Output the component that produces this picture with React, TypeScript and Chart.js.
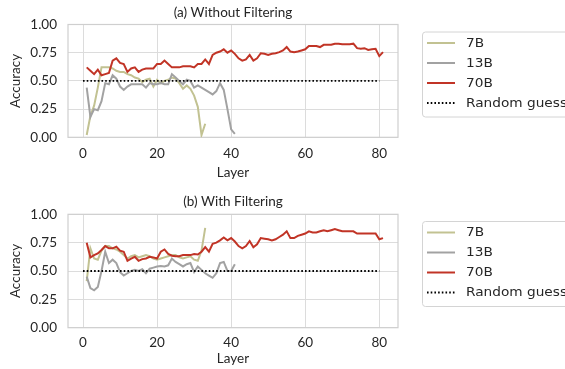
import React, { useEffect, useRef } from 'react';
import { Chart, registerables } from 'chart.js';

Chart.register(...registerables);

const seriesNames = ['7B', '13B', '70B'];
const seriesColors = ['rgb(194,194,146)', 'rgb(162,162,162)', 'rgb(193,52,38)'];
const randomGuessLabel = 'Random guess';
const randomGuessValue = 0.5;
const randomGuessLayers = [0, 80];
const xTickValues = [0, 20, 40, 60, 80];
const xLabel = 'Layer';
const yLabel = 'Accuracy';
const titleA = '(a) Without Filtering';
const titleB = '(b) With Filtering';

// (a) Without Filtering
const noFilter7B = [0.02, 0.19, 0.28, 0.44, 0.62, 0.62, 0.62, 0.61, 0.59, 0.58, 0.58, 0.56, 0.55, 0.53, 0.52, 0.49, 0.51, 0.52, 0.45, 0.51, 0.48, 0.50, 0.51, 0.53, 0.52, 0.48, 0.43, 0.46, 0.43, 0.37, 0.27, 0.02, 0.12];
const noFilter13B = [0.44, 0.18, 0.25, 0.24, 0.32, 0.48, 0.47, 0.55, 0.52, 0.45, 0.42, 0.45, 0.47, 0.47, 0.47, 0.47, 0.44, 0.48, 0.47, 0.47, 0.48, 0.47, 0.47, 0.56, 0.53, 0.50, 0.47, 0.51, 0.50, 0.44, 0.46, 0.44, 0.42, 0.40, 0.38, 0.41, 0.48, 0.42, 0.25, 0.07, 0.03];
const noFilter70B = [
  0.62, 0.59, 0.56, 0.60, 0.55, 0.56, 0.57, 0.68, 0.70, 0.66,
  0.65, 0.58, 0.61, 0.62, 0.58, 0.60, 0.61, 0.61, 0.61, 0.65,
  0.65, 0.68, 0.65, 0.62, 0.62, 0.62, 0.63, 0.63, 0.63, 0.62,
  0.65, 0.65, 0.69, 0.65, 0.73, 0.75, 0.76, 0.78, 0.75, 0.77,
  0.74, 0.70, 0.68, 0.69, 0.73, 0.68, 0.70, 0.745, 0.74, 0.73,
  0.74, 0.745, 0.755, 0.77, 0.80, 0.76, 0.755, 0.76, 0.77, 0.78,
  0.81, 0.81, 0.81, 0.80, 0.82, 0.82, 0.82, 0.83, 0.83, 0.825,
  0.825, 0.825, 0.83, 0.79, 0.785, 0.79, 0.775, 0.78, 0.785, 0.72, 0.755,
];

// (b) With Filtering
const filter7B = [0.41, 0.70, 0.61, 0.60, 0.68, 0.72, 0.72, 0.70, 0.69, 0.67, 0.64, 0.61, 0.63, 0.64, 0.62, 0.63, 0.64, 0.63, 0.61, 0.60, 0.61, 0.62, 0.63, 0.64, 0.64, 0.62, 0.61, 0.62, 0.63, 0.60, 0.59, 0.68, 0.88];
const filter13B = [0.45, 0.35, 0.33, 0.36, 0.50, 0.67, 0.57, 0.60, 0.57, 0.49, 0.46, 0.48, 0.50, 0.51, 0.50, 0.515, 0.48, 0.52, 0.53, 0.54, 0.545, 0.54, 0.55, 0.61, 0.58, 0.56, 0.54, 0.56, 0.57, 0.49, 0.54, 0.51, 0.48, 0.46, 0.44, 0.48, 0.57, 0.58, 0.50, 0.50, 0.56];
const filter70B = [
  0.75, 0.62, 0.64, 0.655, 0.685, 0.72, 0.70, 0.70, 0.715, 0.68,
  0.67, 0.59, 0.61, 0.625, 0.59, 0.605, 0.61, 0.625, 0.62, 0.61,
  0.67, 0.69, 0.65, 0.635, 0.63, 0.63, 0.64, 0.64, 0.64, 0.65,
  0.645, 0.67, 0.71, 0.67, 0.74, 0.75, 0.77, 0.795, 0.77, 0.79,
  0.76, 0.72, 0.70, 0.72, 0.765, 0.71, 0.735, 0.79, 0.785, 0.78,
  0.77, 0.78, 0.80, 0.82, 0.85, 0.79, 0.79, 0.81, 0.82, 0.83,
  0.85, 0.84, 0.84, 0.85, 0.86, 0.85, 0.86, 0.87, 0.86, 0.85,
  0.85, 0.85, 0.85, 0.83, 0.83, 0.83, 0.83, 0.83, 0.83, 0.78, 0.79,
];

const TEXT = '#262626';
const GRID = '#dcdcdc';
const FONT_SIZE = 13.5;

type Geom = {
  height: number;
  padTop: number;
  xAxisHeight: number;
  tickPad: number;
  xTitlePad: number;
  titleY: number;
  legendTop: number;
};

function toPoints(vals: number[]) {
  return vals.map((v, i) => ({ x: i + 1, y: v }));
}

function makeConfig(title: string, s7: number[], s13: number[], s70: number[], g: Geom): any {
  const all = [s7, s13, s70];
  const datasets: any[] = all.map((vals, i) => ({
    label: seriesNames[i],
    data: toPoints(vals),
    borderColor: seriesColors[i],
    backgroundColor: seriesColors[i],
    borderWidth: 2,
    pointRadius: 0,
    tension: 0,
    fill: false,
    order: 4 - i,
  }));
  datasets.push({
    label: randomGuessLabel,
    data: randomGuessLayers.map((x) => ({ x, y: randomGuessValue })),
    borderColor: '#000',
    borderWidth: 1.8,
    borderDash: [1.6, 2.1],
    pointRadius: 0,
    fill: false,
    order: 0,
  });

  const decor = {
    id: 'decor',
    beforeDatasetsDraw(chart: any) {
      const { ctx, chartArea: a } = chart;
      ctx.save();
      ctx.strokeStyle = '#cfcfcf';
      ctx.lineWidth = 1.2;
      ctx.strokeRect(a.left, a.top, a.right - a.left, a.bottom - a.top);
      ctx.restore();
    },
    afterDraw(chart: any) {
      const { ctx, chartArea: a } = chart;
      ctx.save();
      ctx.fillStyle = TEXT;
      ctx.font = `${FONT_SIZE}px Lato`;
      ctx.textAlign = 'center';
      ctx.textBaseline = 'middle';
      ctx.fillText(title, (a.left + a.right) / 2, g.titleY);

      // legend
      const bx = 422.5;
      const by = g.legendTop + 0.5;
      const bw = 220;
      const bh = 85;
      const r = 3;
      ctx.beginPath();
      ctx.moveTo(bx + r, by);
      ctx.lineTo(bx + bw - r, by);
      ctx.arcTo(bx + bw, by, bx + bw, by + r, r);
      ctx.lineTo(bx + bw, by + bh - r);
      ctx.arcTo(bx + bw, by + bh, bx + bw - r, by + bh, r);
      ctx.lineTo(bx + r, by + bh);
      ctx.arcTo(bx, by + bh, bx, by + bh - r, r);
      ctx.lineTo(bx, by + r);
      ctx.arcTo(bx, by, bx + r, by, r);
      ctx.closePath();
      ctx.fillStyle = 'rgba(255,255,255,0.85)';
      ctx.fill();
      ctx.strokeStyle = '#d4d4d4';
      ctx.lineWidth = 1;
      ctx.stroke();

      const labels = [...seriesNames, randomGuessLabel];
      const colors = [...seriesColors, '#000'];
      ctx.font = '12px "DejaVu Sans"';
      ctx.textAlign = 'left';
      labels.forEach((lab, i) => {
        const cy = g.legendTop + 11.5 + i * 20;
        ctx.beginPath();
        ctx.strokeStyle = colors[i];
        ctx.lineWidth = i === 3 ? 1.8 : 2;
        ctx.setLineDash(i === 3 ? [1.6, 2.1] : []);
        ctx.moveTo(427, cy);
        ctx.lineTo(455, cy);
        ctx.stroke();
        ctx.setLineDash([]);
        ctx.fillStyle = TEXT;
        ctx.save();
        ctx.translate(466, cy + 0.5);
        ctx.scale(1.14, 1);
        ctx.fillText(lab, 0, 0);
        ctx.restore();
      });
      ctx.restore();
    },
  };

  const font = { family: 'Lato', size: FONT_SIZE };

  return {
    type: 'line',
    data: { datasets },
    plugins: [decor],
    options: {
      animation: false,
      responsive: false,
      devicePixelRatio: 1,
      layout: { padding: { top: g.padTop, right: 167, bottom: 0, left: 0 } },
      plugins: { legend: { display: false }, title: { display: false }, tooltip: { enabled: false } },
      scales: {
        x: {
          type: 'linear',
          min: -4.05,
          max: 85.05,
          afterBuildTicks: (s: any) => {
            s.ticks = xTickValues.map((v) => ({ value: v }));
          },
          afterFit: (s: any) => {
            s.height = g.xAxisHeight;
          },
          grid: { color: GRID, lineWidth: 1, drawTicks: false },
          border: { display: false },
          ticks: { color: TEXT, font, padding: g.tickPad, maxRotation: 0 },
          title: { display: true, text: xLabel, color: TEXT, font, padding: { top: 0, bottom: g.xTitlePad } },
        },
        y: {
          type: 'linear',
          min: 0,
          max: 1,
          afterFit: (s: any) => {
            s.width = 68;
          },
          grid: { color: GRID, lineWidth: 1, drawTicks: false },
          border: { display: false },
          ticks: {
            stepSize: 0.25,
            color: TEXT,
            font,
            padding: 11,
            callback: (v: any) => Number(v).toFixed(2),
          },
          title: { display: true, text: yLabel, color: TEXT, font, padding: { top: 8, bottom: 0 } },
        },
      },
    },
  };
}

function Panel({ title, s7, s13, s70, g, top }: any) {
  const ref = useRef<HTMLCanvasElement | null>(null);
  useEffect(() => {
    if (!ref.current) return;
    const chart = new Chart(ref.current, makeConfig(title, s7, s13, s70, g));
    return () => chart.destroy();
  }, []);
  return (
    <div style={{ position: 'absolute', left: 0, top, width: 565, height: g.height }}>
      <canvas ref={ref} width={565} height={g.height} style={{ display: 'block', width: 565, height: g.height }} />
    </div>
  );
}

export default function App() {
  const gA: Geom = { height: 185, padTop: 24.5, xAxisHeight: 47.7, tickPad: 8.5, xTitlePad: 4.5, titleY: 12.5, legendTop: 31.5 };
  const gB: Geom = { height: 184, padTop: 29.3, xAxisHeight: 41.3, tickPad: 6.5, xTitlePad: 2, titleY: 17, legendTop: 36 };
  return (
    <div style={{ position: 'fixed', left: 0, top: 0, width: 565, height: 369, background: '#fff', overflow: 'hidden' }}>
      <Panel title={titleA} s7={noFilter7B} s13={noFilter13B} s70={noFilter70B} g={gA} top={0} />
      <Panel title={titleB} s7={filter7B} s13={filter13B} s70={filter70B} g={gB} top={185} />
    </div>
  );
}
